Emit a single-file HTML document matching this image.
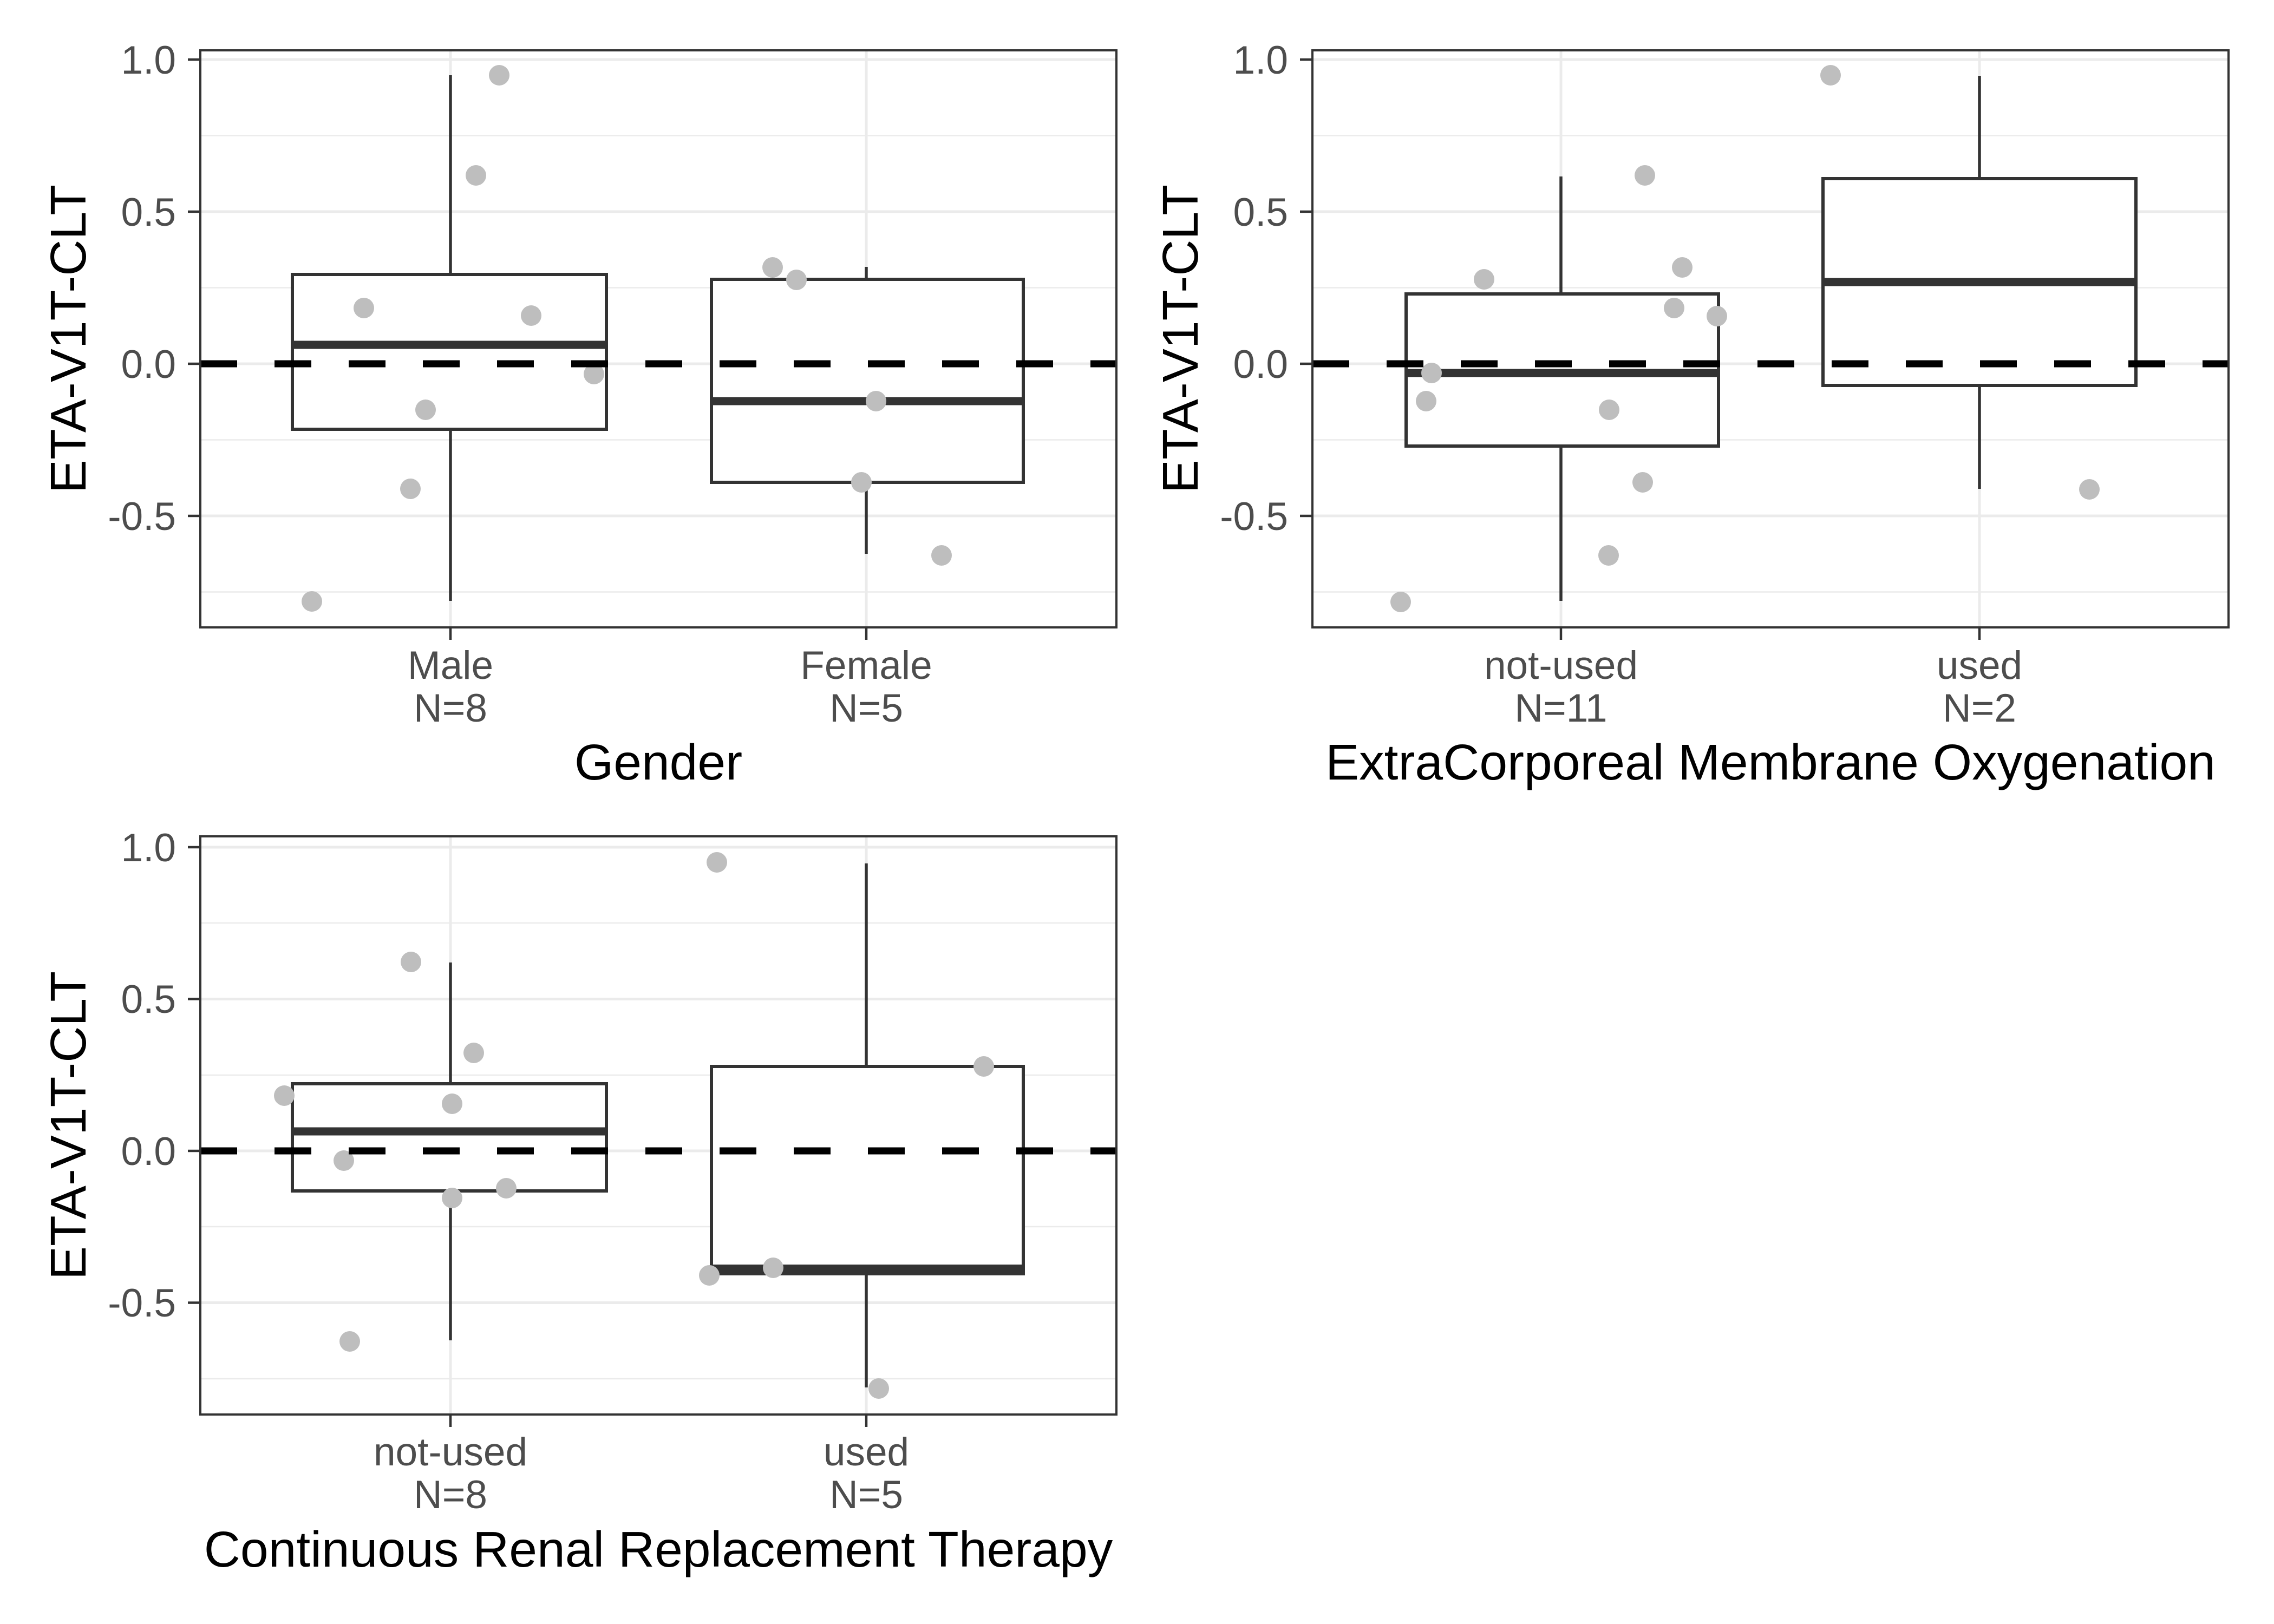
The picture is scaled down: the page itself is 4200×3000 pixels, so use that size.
<!DOCTYPE html>
<html><head><meta charset="utf-8"><style>
html,body{margin:0;padding:0;background:#fff}
svg{display:block}
text{font-family:"Liberation Sans",Arial,sans-serif}
.tk{font-size:73px;fill:#4d4d4d}
.tt{font-size:93px;fill:#000}
.gmaj{stroke:#ebebeb;stroke-width:5}
.gmin{stroke:#ebebeb;stroke-width:2.5}
.box{fill:#fff;stroke:#333;stroke-width:6}
.med{stroke:#333;stroke-width:15}
.wh{stroke:#333;stroke-width:5.5}
.pt{fill:#bebebe}
.dash{stroke:#000;stroke-width:13;stroke-dasharray:68 69}
.fr{fill:none;stroke:#333;stroke-width:4}
.tick{stroke:#333;stroke-width:4.5}
</style></head><body>
<svg width="4200" height="3000" viewBox="0 0 4200 3000" xmlns="http://www.w3.org/2000/svg">
<rect width="4200" height="3000" fill="#fff"/>

<!-- PANEL 1 -->
<g>
<line class="gmin" x1="370" x2="2062" y1="250.5" y2="250.5"/>
<line class="gmin" x1="370" x2="2062" y1="531.5" y2="531.5"/>
<line class="gmin" x1="370" x2="2062" y1="812.5" y2="812.5"/>
<line class="gmin" x1="370" x2="2062" y1="1093.5" y2="1093.5"/>
<line class="gmaj" x1="370" x2="2062" y1="110" y2="110"/>
<line class="gmaj" x1="370" x2="2062" y1="391" y2="391"/>
<line class="gmaj" x1="370" x2="2062" y1="672" y2="672"/>
<line class="gmaj" x1="370" x2="2062" y1="953" y2="953"/>
<line class="gmaj" x1="832" x2="832" y1="93" y2="1159"/>
<line class="gmaj" x1="1600" x2="1600" y1="93" y2="1159"/>
<line class="wh" x1="832" x2="832" y1="139" y2="1110"/>
<rect class="box" x="540" y="507" width="580" height="286"/>
<line class="med" x1="540" x2="1120" y1="637" y2="637"/>
<line class="wh" x1="1600" x2="1600" y1="493" y2="1023"/>
<rect class="box" x="1314" y="516" width="576" height="375"/>
<line class="med" x1="1314" x2="1890" y1="741" y2="741"/>
<g class="pt">
<circle cx="576" cy="1111" r="19"/><circle cx="672" cy="569" r="19"/><circle cx="758" cy="903" r="19"/><circle cx="786" cy="757" r="19"/><circle cx="879" cy="324" r="19"/><circle cx="922" cy="139" r="19"/><circle cx="981" cy="583" r="19"/><circle cx="1097" cy="691" r="19"/>
<circle cx="1427" cy="494" r="19"/><circle cx="1471" cy="517" r="19"/><circle cx="1591" cy="891" r="19"/><circle cx="1618" cy="741" r="19"/><circle cx="1739" cy="1026" r="19"/>
</g>
<line class="dash" x1="370" x2="2062" y1="672" y2="672"/>
<rect class="fr" x="370" y="93" width="1692" height="1066"/>
<line class="tick" x1="347" x2="370" y1="110" y2="110"/><line class="tick" x1="347" x2="370" y1="391" y2="391"/><line class="tick" x1="347" x2="370" y1="672" y2="672"/><line class="tick" x1="347" x2="370" y1="953" y2="953"/>
<line class="tick" x1="832" x2="832" y1="1159" y2="1182"/><line class="tick" x1="1600" x2="1600" y1="1159" y2="1182"/>
<g class="tk" text-anchor="end"><text x="325" y="136">1.0</text><text x="325" y="417">0.5</text><text x="325" y="698">0.0</text><text x="325" y="979">-0.5</text></g>
<g class="tk" text-anchor="middle"><text x="832" y="1254">Male</text><text x="832" y="1333">N=8</text><text x="1600" y="1254">Female</text><text x="1600" y="1333">N=5</text></g>
<text class="tt" text-anchor="middle" x="1216" y="1440">Gender</text>
<text class="tt" text-anchor="middle" transform="translate(158,626) rotate(-90)">ETA-V1T-CLT</text>
</g>

<!-- PANEL 2 -->
<g>
<line class="gmin" x1="2424" x2="4116" y1="250.5" y2="250.5"/>
<line class="gmin" x1="2424" x2="4116" y1="531.5" y2="531.5"/>
<line class="gmin" x1="2424" x2="4116" y1="812.5" y2="812.5"/>
<line class="gmin" x1="2424" x2="4116" y1="1093.5" y2="1093.5"/>
<line class="gmaj" x1="2424" x2="4116" y1="110" y2="110"/>
<line class="gmaj" x1="2424" x2="4116" y1="391" y2="391"/>
<line class="gmaj" x1="2424" x2="4116" y1="672" y2="672"/>
<line class="gmaj" x1="2424" x2="4116" y1="953" y2="953"/>
<line class="gmaj" x1="2883" x2="2883" y1="93" y2="1159"/>
<line class="gmaj" x1="3656" x2="3656" y1="93" y2="1159"/>
<line class="wh" x1="2883" x2="2883" y1="326" y2="1110"/>
<rect class="box" x="2597" y="543" width="577" height="281"/>
<line class="med" x1="2597" x2="3174" y1="689" y2="689"/>
<line class="wh" x1="3656" x2="3656" y1="140" y2="903"/>
<rect class="box" x="3367" y="330" width="578" height="382"/>
<line class="med" x1="3367" x2="3945" y1="521" y2="521"/>
<g class="pt">
<circle cx="2587" cy="1112" r="19"/><circle cx="2634" cy="741" r="19"/><circle cx="2644" cy="689" r="19"/><circle cx="2741" cy="516" r="19"/><circle cx="2971" cy="1026" r="19"/><circle cx="2972" cy="757" r="19"/><circle cx="3034" cy="891" r="19"/><circle cx="3038" cy="324" r="19"/><circle cx="3092" cy="569" r="19"/><circle cx="3107" cy="494" r="19"/><circle cx="3171" cy="584" r="19"/><circle cx="3381" cy="139" r="19"/><circle cx="3859" cy="904" r="19"/>
</g>
<line class="dash" x1="2424" x2="4116" y1="672" y2="672"/>
<rect class="fr" x="2424" y="93" width="1692" height="1066"/>
<line class="tick" x1="2401" x2="2424" y1="110" y2="110"/><line class="tick" x1="2401" x2="2424" y1="391" y2="391"/><line class="tick" x1="2401" x2="2424" y1="672" y2="672"/><line class="tick" x1="2401" x2="2424" y1="953" y2="953"/>
<line class="tick" x1="2883" x2="2883" y1="1159" y2="1182"/><line class="tick" x1="3656" x2="3656" y1="1159" y2="1182"/>
<g class="tk" text-anchor="end"><text x="2379" y="136">1.0</text><text x="2379" y="417">0.5</text><text x="2379" y="698">0.0</text><text x="2379" y="979">-0.5</text></g>
<g class="tk" text-anchor="middle"><text x="2883" y="1254">not-used</text><text x="2883" y="1333">N=11</text><text x="3656" y="1254">used</text><text x="3656" y="1333">N=2</text></g>
<text class="tt" text-anchor="middle" x="3270" y="1440">ExtraCorporeal Membrane Oxygenation</text>
<text class="tt" text-anchor="middle" transform="translate(2212,626) rotate(-90)">ETA-V1T-CLT</text>
</g>

<!-- PANEL 3 -->
<g>
<line class="gmin" x1="370" x2="2062" y1="1705" y2="1705"/>
<line class="gmin" x1="370" x2="2062" y1="1986" y2="1986"/>
<line class="gmin" x1="370" x2="2062" y1="2266" y2="2266"/>
<line class="gmin" x1="370" x2="2062" y1="2547" y2="2547"/>
<line class="gmaj" x1="370" x2="2062" y1="1565" y2="1565"/>
<line class="gmaj" x1="370" x2="2062" y1="1845.5" y2="1845.5"/>
<line class="gmaj" x1="370" x2="2062" y1="2126" y2="2126"/>
<line class="gmaj" x1="370" x2="2062" y1="2406.5" y2="2406.5"/>
<line class="gmaj" x1="832" x2="832" y1="1545" y2="2613"/>
<line class="gmaj" x1="1600" x2="1600" y1="1545" y2="2613"/>
<line class="wh" x1="832" x2="832" y1="1778" y2="2476"/>
<rect class="box" x="540" y="2002" width="580" height="198"/>
<line class="med" x1="540" x2="1120" y1="2090" y2="2090"/>
<line class="wh" x1="1600" x2="1600" y1="1595" y2="2563"/>
<rect class="box" x="1314" y="1970" width="576" height="383"/>
<line class="med" x1="1314" x2="1890" y1="2346" y2="2346" style="stroke-width:20"/>
<g class="pt">
<circle cx="525" cy="2024" r="19"/><circle cx="635" cy="2144" r="19"/><circle cx="646" cy="2478" r="19"/><circle cx="759" cy="1777" r="19"/><circle cx="835" cy="2039" r="19"/><circle cx="835" cy="2213" r="19"/><circle cx="875" cy="1945" r="19"/><circle cx="935" cy="2195" r="19"/>
<circle cx="1310" cy="2356" r="19"/><circle cx="1324" cy="1593" r="19"/><circle cx="1428" cy="2342" r="19"/><circle cx="1623" cy="2565" r="19"/><circle cx="1817" cy="1970" r="19"/>
</g>
<line class="dash" x1="370" x2="2062" y1="2126" y2="2126"/>
<rect class="fr" x="370" y="1545" width="1692" height="1068"/>
<line class="tick" x1="347" x2="370" y1="1565" y2="1565"/><line class="tick" x1="347" x2="370" y1="1845.5" y2="1845.5"/><line class="tick" x1="347" x2="370" y1="2126" y2="2126"/><line class="tick" x1="347" x2="370" y1="2406.5" y2="2406.5"/>
<line class="tick" x1="832" x2="832" y1="2613" y2="2636"/><line class="tick" x1="1600" x2="1600" y1="2613" y2="2636"/>
<g class="tk" text-anchor="end"><text x="325" y="1591">1.0</text><text x="325" y="1871">0.5</text><text x="325" y="2152">0.0</text><text x="325" y="2432">-0.5</text></g>
<g class="tk" text-anchor="middle"><text x="832" y="2707">not-used</text><text x="832" y="2786">N=8</text><text x="1600" y="2707">used</text><text x="1600" y="2786">N=5</text></g>
<text class="tt" text-anchor="middle" x="1216" y="2894">Continuous Renal Replacement Therapy</text>
<text class="tt" text-anchor="middle" transform="translate(158,2079) rotate(-90)">ETA-V1T-CLT</text>
</g>
</svg>
</body></html>
